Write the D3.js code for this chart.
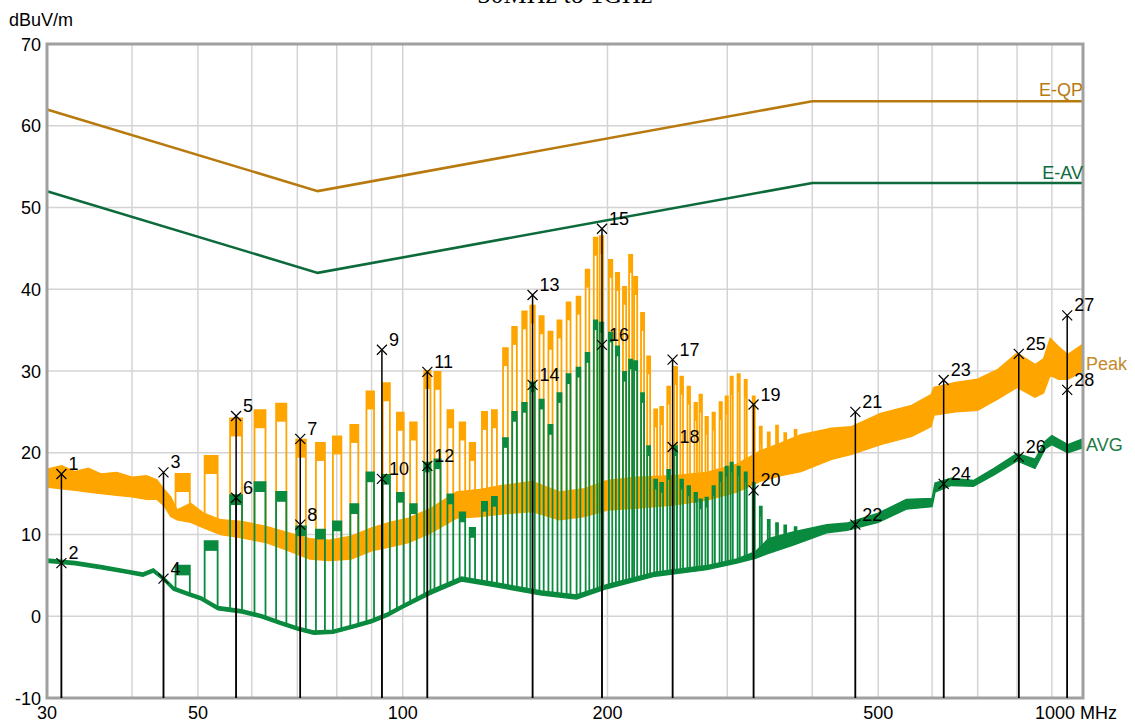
<!DOCTYPE html>
<html>
<head>
<meta charset="utf-8">
<script src="https://cdn.jsdelivr.net/npm/d3@7"></script>
<style>
  body { margin: 0; background: #fff; }
  text { font-family: "Liberation Sans", Arial, sans-serif; font-size: 18px; }
</style>
</head>
<body>
<div id="chart"></div>
<script>
// limit lines (MHz -> dBuV/m)
const limitFreq = [30, 75, 400, 1000];
const limitQP = [62, 52, 63, 63];
const limitAV = [52, 42, 53, 53];

// noise floor envelopes: [MHz, low, high]
const peakFloor = [
  [30, 15.8, 18.0], [31.5, 15.6, 18.4], [33, 15.4, 17.7], [34.5, 15.2, 18.1],
  [36, 15.0, 17.4], [38, 14.8, 17.6], [40, 14.6, 17.0], [42, 14.3, 17.2],
  [43.5, 14.3, 16.7], [44.6, 13.5, 15.5], [45.6, 12.2, 14.6], [46.6, 11.8, 13.0],
  [48.8, 11.5, 13.8], [51, 10.8, 12.6], [54, 10.0, 11.8], [58, 9.6, 11.6],
  [63, 9.0, 11.0], [68, 8.0, 10.2], [73, 7.0, 9.5], [78, 6.8, 9.3],
  [84, 7.0, 9.8], [90, 8.0, 10.8], [96, 8.5, 11.5], [102, 9.0, 12.0],
  [110, 10.2, 13.2], [120, 12.0, 15.2], [130, 12.2, 15.5], [140, 12.5, 16.0],
  [155, 12.8, 16.5], [170, 11.8, 15.2], [185, 12.2, 15.6], [200, 13.0, 16.6],
  [220, 13.2, 17.0], [250, 13.6, 17.2], [280, 14.2, 17.6], [310, 15.2, 18.6],
  [335, 16.5, 20.2], [360, 17.2, 21.2], [385, 17.7, 22.2], [427, 19.2, 23.0],
  [457, 19.8, 23.2], [504, 21.0, 24.8], [560, 22.0, 25.8], [598, 23.2, 27.1],
  [604, 24.6, 28.0], [650, 25.0, 28.6], [700, 25.2, 29.0], [750, 26.6, 30.2],
  [800, 28.0, 32.2], [850, 26.8, 30.8], [875, 27.3, 31.5], [895, 29.5, 34.0],
  [920, 29.0, 33.0], [950, 29.0, 32.0], [1000, 30.0, 33.3]
];
const avgFloor = [
  [30, 6.6, 7.0], [33, 6.3, 6.7], [36, 5.8, 6.2], [39, 5.3, 5.7],
  [41.5, 4.9, 5.3], [43, 5.4, 5.8], [44.5, 4.4, 4.8], [46, 3.2, 3.6],
  [48.5, 2.5, 2.9], [50.5, 2.0, 2.4], [53.5, 0.8, 1.2], [58, 0.4, 0.8],
  [62, -0.2, 0.2], [66, -1.0, -0.6], [70, -1.7, -1.3], [74, -2.2, -1.8],
  [79, -2.1, -1.7], [85, -1.4, -1.0], [90, -0.8, -0.4], [95, 0.0, 0.4],
  [100, 1.0, 1.4], [110, 2.7, 3.2], [122, 4.3, 4.8], [135, 3.7, 4.2],
  [160, 2.6, 3.1], [180, 2.1, 2.6], [200, 3.4, 3.9], [235, 4.9, 5.4],
  [280, 5.7, 6.2], [310, 6.5, 7.0], [330, 7.1, 7.9], [345, 7.7, 9.5],
  [375, 8.7, 10.3], [420, 10.2, 11.2], [450, 10.5, 11.4], [500, 11.5, 12.6],
  [550, 13.1, 14.3], [600, 13.4, 14.4], [606, 15.2, 16.3], [640, 16.0, 16.9],
  [690, 15.9, 16.6], [740, 17.3, 18.1], [800, 19.0, 19.9], [850, 18.1, 19.2],
  [880, 20.5, 21.4], [900, 21.0, 22.1], [950, 20.0, 21.0], [1000, 20.6, 21.7]
];

// comb harmonics: centre MHz, peak top, average top
const combFreq = [
  47.5, 52.3, 56.9, 61.7, 66.3, 70.9, 75.7, 80.1, 84.9, 89.6,
  94.6, 99.2, 103.7, 108.7, 112.5, 117.5, 122.4, 126.6, 131.9, 136.4,
  141.6, 146.0, 151.0, 155.2, 160.0, 164.9, 170.0, 175.3, 181.3, 186.9,
  192.1, 196.0, 202.1, 206.9, 211.9, 216.3, 220.0, 225.2, 229.9, 235.4,
  240.2, 246.0, 251.9, 257.1, 263.3, 269.6, 274.2, 279.8, 286.5, 293.4,
  299.4, 304.5, 311.8, 319.3, 328.1, 336.0, 345.2, 355, 365, 378
];
const combPeak = [
  17.4, 19.6, 24.2, 25.2, 26.0, 21.6, 21.2, 22.0, 23.4, 27.5,
  28.5, 24.9, 23.7, 30.0, 29.9, 25.2, 23.7, 21.2, 25.0, 25.2,
  32.8, 35.4, 37.3, 38.0, 36.7, 34.8, 36.2, 38.4, 39.1, 42.4,
  46.3, 46.5, 43.6, 42.0, 40.3, 44.2, 41.5, 37.1, 31.8, 25.3,
  25.6, 28.1, 30.5, 29.3, 28.1, 26.1, 27.1, 24.4, 24.9, 26.2,
  26.9, 29.3, 29.6, 28.9, 26.9, 23.2, 22.5, 23.3, 22.4, 22.8
];
const combAvg = [
  6.2, 9.2, 14.8, 16.4, 15.2, 11.0, 10.6, 11.6, 13.7, 17.6,
  17.3, 15.1, 13.7, 18.8, 19.2, 14.9, 12.7, 10.8, 14.0, 14.6,
  21.8, 25.0, 26.1, 28.6, 26.5, 23.4, 27.3, 29.6, 30.4, 32.2,
  36.2, 35.9, 34.7, 33.0, 29.9, 31.4, 31.2, 27.3, 20.8, 16.7,
  16.3, 17.9, 20.8, 16.7, 15.9, 15.1, 14.3, 14.5, 15.9, 17.6,
  18.3, 18.8, 18.3, 17.6, 16.3, 13.4, 11.8, 11.4, 11.1, 10.9
];

// final measurement markers
const markerFreq = [
  31.5, 31.5, 44.5, 44.5, 56.9, 56.9, 70.7, 70.7, 93.2, 93.2,
  108.7, 108.7, 155.2, 155.2, 196.3, 196.3, 249.3, 249.3, 327.9, 327.9,
  462.8, 462.8, 624, 624, 804.6, 804.6, 947.9, 947.9
];
const markerLevel = [
  17.4, 6.5, 17.6, 4.6, 24.5, 14.5, 21.7, 11.2, 32.6, 16.8,
  29.9, 18.4, 39.3, 28.3, 47.4, 33.2, 31.4, 20.7, 25.9, 15.4,
  25.0, 11.2, 28.9, 16.2, 32.1, 19.5, 36.8, 27.7
];

const xTickLabels = [30, 50, 100, 200, 500];
const xGridLines = [40, 50, 60, 70, 80, 90, 100, 200, 300, 400, 500, 600, 700, 800, 900];
const yTickLabels = [-10, 0, 10, 20, 30, 40, 50, 60, 70];

const W = 1135, H = 722;
const pLeft = 47, pRight = 1083, pTop = 44, pBottom = 698;

const svg = d3.select("#chart").append("svg")
  .attr("width", W).attr("height", H);

const x = d3.scaleLog().domain([30, 1000]).range([pLeft, pRight]);
const y = d3.scaleLinear().domain([-10, 70]).range([pBottom, pTop]);

// title (cut off at top edge as in the source)
svg.append("text")
  .attr("x", 565).attr("y", 3)
  .attr("text-anchor", "middle")
  .style("font-family", "'Liberation Serif', 'Times New Roman', serif")
  .style("font-size", "26px")
  .text("30MHz to 1GHz");

svg.append("text").attr("x", 9).attr("y", 26).text("dBuV/m");

// grid
svg.append("g").selectAll("line").data(xGridLines).join("line")
  .attr("x1", d => x(d)).attr("x2", d => x(d))
  .attr("y1", pTop).attr("y2", pBottom)
  .attr("stroke", "#d4d4d4").attr("stroke-width", 1.5);
svg.append("g").selectAll("line").data(yTickLabels).join("line")
  .attr("x1", pLeft).attr("x2", pRight)
  .attr("y1", d => y(d)).attr("y2", d => y(d))
  .attr("stroke", "#d4d4d4").attr("stroke-width", 1.5);

// tick labels
svg.append("g").selectAll("text").data(yTickLabels).join("text")
  .attr("x", 41).attr("y", d => y(d) + 6.5)
  .attr("text-anchor", "end")
  .text(d => d);
svg.append("g").selectAll("text").data(xTickLabels).join("text")
  .attr("x", d => x(d)).attr("y", 719)
  .attr("text-anchor", "middle")
  .text(d => d);
svg.append("text").attr("x", x(1000) - 48).attr("y", 719).text("1000 MHz");

// limit lines
const limLine = d3.line().x(d => x(d[0])).y(d => y(d[1]));
const qp = limitFreq.map((f, i) => [f, limitQP[i]]);
const av = limitFreq.map((f, i) => [f, limitAV[i]]);
svg.append("path").attr("d", limLine(qp)).attr("fill", "none")
  .attr("stroke", "#b87a0f").attr("stroke-width", 2.6);
svg.append("path").attr("d", limLine(av)).attr("fill", "none")
  .attr("stroke", "#0c6a3b").attr("stroke-width", 2.6);

// helper: envelope value at f (linear in log f)
function floorAt(arr, f, k) {
  const i = d3.bisector(d => d[0]).left(arr, f);
  if (i <= 0) return arr[0][k];
  if (i >= arr.length) return arr[arr.length - 1][k];
  const a = arr[i - 1], b = arr[i];
  const t = (Math.log10(f) - Math.log10(a[0])) / (Math.log10(b[0]) - Math.log10(a[0]));
  return a[k] + t * (b[k] - a[k]);
}

const hw = 1.15; // half width of each comb pulse, MHz

function drawTrace(floor, tops, color, thick) {
  const g = svg.append("g");
  const band = d3.area()
    .x(d => x(d[0])).y0(d => y(d[1])).y1(d => y(d[2]));
  g.append("path").attr("d", band(floor))
    .attr("fill", color).attr("stroke", color).attr("stroke-width", 1.4);

  const p = d3.path();
  combFreq.forEach((f, i) => {
    const f1 = f - hw, f2 = f + hw;
    p.moveTo(x(f1), y(floorAt(floor, f1, 1)));
    p.lineTo(x(f1), y(tops[i]));
    p.lineTo(x(f2), y(tops[i]));
    p.lineTo(x(f2), y(floorAt(floor, f2, 1)));
  });
  g.append("path").attr("d", p.toString())
    .attr("fill", "none").attr("stroke", color).attr("stroke-width", 1.8);

  g.selectAll("rect").data(combFreq).join("rect")
    .attr("x", d => x(d - hw))
    .attr("width", d => x(d + hw) - x(d - hw))
    .attr("y", (d, i) => y(tops[i]))
    .attr("height", (d, i) => y(tops[i] - thick) - y(tops[i]))
    .attr("fill", color);
}

drawTrace(peakFloor, combPeak, "#ffa500", 2.2);
drawTrace(avgFloor, combAvg, "#0a8a3e", 1.2);

// plot frame
svg.append("rect")
  .attr("x", pLeft).attr("y", pTop)
  .attr("width", pRight - pLeft).attr("height", pBottom - pTop)
  .attr("fill", "none").attr("stroke", "#a0a0a0").attr("stroke-width", 3);

// markers
const mk = svg.append("g");
markerFreq.forEach((f, i) => {
  const mx = x(f), my = y(markerLevel[i]);
  mk.append("line").attr("x1", mx).attr("x2", mx).attr("y1", my).attr("y2", pBottom)
    .attr("stroke", "#000").attr("stroke-width", 1.5);
  mk.append("path")
    .attr("d", `M${mx - 5},${my - 5}L${mx + 5},${my + 5}M${mx - 5},${my + 5}L${mx + 5},${my - 5}`)
    .attr("stroke", "#000").attr("stroke-width", 1.2);
  mk.append("text").attr("x", mx + 7).attr("y", my - 4).text(i + 1);
});

// trace and limit labels
svg.append("text").attr("x", pRight).attr("y", y(63) - 5).attr("text-anchor", "end")
  .attr("fill", "#b87a0f").text("E-QP");
svg.append("text").attr("x", pRight).attr("y", y(53) - 4).attr("text-anchor", "end")
  .attr("fill", "#0c6a3b").text("E-AV");
svg.append("text").attr("x", 1086).attr("y", 370).attr("fill", "#c48a2c").text("Peak");
svg.append("text").attr("x", 1086).attr("y", 451).attr("fill", "#1b7a45").text("AVG");
</script>
</body>
</html>
